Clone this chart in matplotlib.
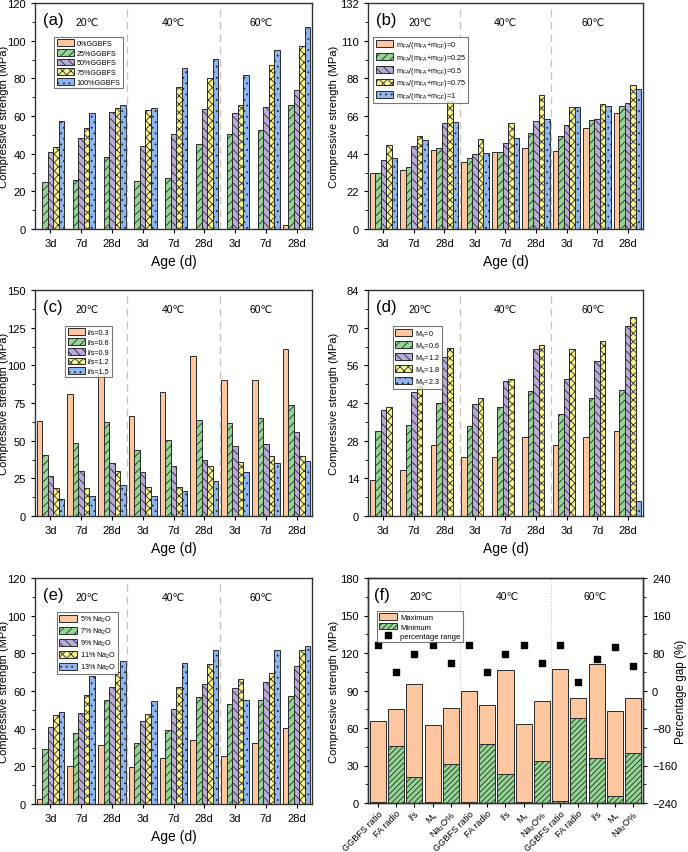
import numpy as np
import matplotlib
matplotlib.use('Agg')
import matplotlib.pyplot as plt
from matplotlib.ticker import MultipleLocator, AutoMinorLocator
from matplotlib.lines import Line2D
from matplotlib.patches import Patch

plt.rcParams['font.family'] = ['Liberation Sans', 'DejaVu Sans']
plt.rcParams['mathtext.fontset'] = 'custom'
plt.rcParams['mathtext.rm'] = 'Liberation Sans'
plt.rcParams['mathtext.it'] = 'Liberation Sans:italic'
plt.rcParams['hatch.linewidth'] = 0.6

# x labels / sections
ages = ['3d', '7d', '28d'] * 3
temps = ['20℃', '40℃', '60℃']

# (a) GGBFS ratio
a_labels = ['0%GGBFS', '25%GGBFS', '50%GGBFS', '75%GGBFS', '100%GGBFS']
a_vals = [
    [0, 0, 0, 0, 0, 0, 0, 0, 2],
    [25, 25.8, 38.4, 25.3, 27.2, 45, 50.3, 52.7, 65.8],
    [40.7, 48.3, 62.3, 44, 50.5, 63.5, 61.5, 64.8, 73.8],
    [43.4, 53.6, 64, 63.2, 75.5, 80, 65.8, 87, 97],
    [57.3, 61.4, 65.7, 64.5, 85.5, 90.2, 81.8, 95, 107.5],
]

# (b) FA ratio
b_labels = [r'm$_\mathrm{FA}$/(m$_\mathrm{FA}$+m$_\mathrm{GF}$)=' + v
            for v in ['0', '0.25', '0.5', '0.75', '1']]
b_vals = [
    [33, 34.5, 46, 39, 45, 47.5, 45.5, 59, 67.5],
    [33, 36.5, 47.5, 41.5, 45, 56, 54.5, 63.5, 72],
    [40.5, 48.5, 62, 44, 50.5, 63, 61, 64, 73.5],
    [49, 54.5, 75, 52.5, 62, 78, 71.5, 73, 84],
    [41.5, 52, 62.5, 44.5, 53, 64, 71, 72, 82],
]

# (c) l/s
c_labels = ['l/s=0.3', 'l/s=0.6', 'l/s=0.9', 'l/s=1.2', 'l/s=1.5']
c_vals = [
    [63, 81, 95, 66.5, 82, 106.5, 90, 90.5, 111],
    [40.8, 48.5, 62.5, 44, 50.5, 63.5, 61.5, 65, 74],
    [26.7, 30, 35.5, 29, 33, 37.5, 46.5, 48, 56],
    [18.5, 18.5, 30, 19, 19.5, 33.5, 36, 39.5, 40],
    [11.5, 13.5, 20.5, 13, 16.5, 23, 29, 35, 36.5],
]

# (d) Ms
d_labels = [r'M$_\mathrm{s}$=' + v for v in ['0', '0.6', '1.2', '1.8', '2.3']]
d_vals = [
    [13.5, 17, 26.5, 22, 22, 29.5, 26.5, 29.5, 31.5],
    [31.5, 34, 42, 33.5, 40.5, 46.5, 38, 44, 47],
    [39.5, 46, 59, 41.5, 50, 62, 51, 57.5, 70.5],
    [40.5, 48.5, 62.5, 44, 51, 63.5, 62, 65, 74],
    [0, 0, 0, 0, 0, 0, 0, 0, 5.5],
]

# (e) Na2O
e_labels = [v + r'% Na$_2$O' for v in ['5', '7', '9', '11', '13']]
e_vals = [
    [2.5, 20, 31.5, 19.5, 24.2, 34, 25.5, 32.3, 40.3],
    [29, 37.5, 55.3, 32.5, 39.5, 57, 53.2, 55.3, 57.2],
    [40.8, 48.3, 62.3, 44, 50.5, 63.5, 61.5, 64.8, 73.5],
    [47.5, 58, 70, 48, 62.3, 74.6, 66.5, 69.3, 82],
    [48.8, 67.8, 76, 54.5, 74.8, 81.6, 55, 82, 84],
]

# (f) summary
f_cats = ['GGBFS ratio', 'FA radio', 'l/s', r'M$_\mathrm{s}$', r'Na$_2$O%'] * 3
f_max = [66, 75.5, 95, 62.5, 76, 90, 78.5, 106.5, 63.5, 81.5, 107.5, 84, 111, 74, 84]
f_min = [1, 45.5, 20.5, 1, 31.5, 1, 47, 23, 1, 34, 2, 68, 36, 5.5, 40]
f_pct = [98, 39, 78, 98, 58, 98, 39, 78, 98, 58, 98, 18.5, 67.5, 93, 52]

colors = ['#FCC79E', '#93D593', '#B9AAD8', '#F7F48C', '#8EB6F2']
hatches = ['', '////', '\\\\\\\\', 'xxxx', '...']
edge = '#2b2b2b'

W, H = 688, 853
fig = plt.figure(figsize=(W / 100, H / 100), dpi=100)


def box(l, r, t, b):
    return [l / W, 1 - b / H, (r - l) / W, (b - t) / H]


def style_axes(ax):
    for s in ax.spines.values():
        s.set_linewidth(1.0)
        s.set_color('#333333')
    ax.tick_params(axis='both', labelsize=8, direction='out', length=3, width=0.8)
    ax.tick_params(axis='y', which='minor', length=2, width=0.6)


def bar_panel(pos, vals, labels, ymax, ystep, letter, leg_xy, ylab_x):
    ax = fig.add_axes(pos)
    x = np.arange(9)
    w = 0.18
    for k in range(5):
        ax.bar(x + (k - 2) * w, vals[k], w, color=colors[k], edgecolor=edge,
               linewidth=0.7, hatch=hatches[k], label=labels[k])
    for xs in (2.5, 5.5):
        ax.axvline(xs, color='#C4C4C4', lw=0.9, ls=(0, (6, 4)))
    ax.set_xlim(-0.5, 8.5)
    ax.set_ylim(0, ymax)
    ax.yaxis.set_major_locator(MultipleLocator(ystep))
    ax.yaxis.set_minor_locator(AutoMinorLocator(2))
    ax.set_xticks(x, ages)
    style_axes(ax)
    ax.set_ylabel('Compressive strength (MPa)', fontsize=8)
    ax.yaxis.set_label_coords(ylab_x, 0.5)
    ax.set_xlabel('Age (d)', fontsize=10)
    ax.text(0.03, 0.925, letter, transform=ax.transAxes, fontsize=12, va='center')
    for xt, t in zip([1.2, 4.0, 6.85], temps):
        ax.text(xt, ymax * 0.915, t, ha='center', va='center', fontsize=7.5)
    leg = ax.legend(loc='upper left', bbox_to_anchor=leg_xy, fontsize=5.2,
                    frameon=True, fancybox=False, handlelength=2.4, handleheight=1.1,
                    labelspacing=0.25, borderpad=0.3, handletextpad=0.4,
                    borderaxespad=0)
    leg.get_frame().set_edgecolor('#555555')
    leg.get_frame().set_linewidth(0.8)
    return ax


bar_panel(box(35, 312, 4, 230), a_vals, a_labels, 120, 20, '(a)', (0.07, 0.85), -0.093)
bar_panel(box(368, 643, 4, 230), b_vals, b_labels, 132, 22, '(b)', (0.02, 0.85), -0.105)
bar_panel(box(35, 312, 291, 517), c_vals, c_labels, 150, 25, '(c)', (0.11, 0.84), -0.093)
bar_panel(box(368, 643, 291, 517), d_vals, d_labels, 84, 14, '(d)', (0.09, 0.84), -0.105)
bar_panel(box(35, 312, 579, 805), e_vals, e_labels, 120, 20, '(e)', (0.08, 0.85), -0.093)

# panel (f)
ax = fig.add_axes(box(368, 643, 579, 804))
xf = np.arange(len(f_cats))
ax.bar(xf, f_max, 0.88, color=colors[0], edgecolor=edge, linewidth=0.7)
ax.bar(xf, f_min, 0.88, color=colors[1], edgecolor=edge, linewidth=0.7, hatch='//////')
for xs in (4.5, 9.5):
    ax.axvline(xs, color='#C8C8C8', lw=0.8, ls=':')
ax.set_xlim(-0.55, 14.55)
ax.set_ylim(0, 180)
ax.yaxis.set_major_locator(MultipleLocator(30))
ax.yaxis.set_minor_locator(AutoMinorLocator(2))
ax.set_xticks(xf, f_cats, rotation=45, ha='right', rotation_mode='anchor')
style_axes(ax)
ax.tick_params(axis='x', labelsize=6.6, pad=1)
ax.set_ylabel('Compressive strength (MPa)', fontsize=8)
ax.yaxis.set_label_coords(-0.105, 0.5)
ax.text(0.022, 0.925, '(f)', transform=ax.transAxes, fontsize=12, va='center')
for xt, t in zip([2.35, 7.1, 11.9], temps):
    ax.text(xt, 180 * 0.92, t, ha='center', va='center', fontsize=7.5)

ax2 = ax.twinx()
ax2.scatter(xf, f_pct, marker='s', s=22, color='black', zorder=5)
ax2.set_ylim(-240, 240)
ax2.yaxis.set_major_locator(MultipleLocator(80))
ax2.yaxis.set_minor_locator(AutoMinorLocator(2))
style_axes(ax2)
ax2.set_ylabel('Percentage gap (%)', fontsize=8.5)
ax2.yaxis.set_label_coords(1.115, 0.5)

handles = [Patch(facecolor=colors[0], edgecolor=edge, linewidth=0.7),
           Patch(facecolor=colors[1], edgecolor=edge, linewidth=0.7, hatch='//////'),
           Line2D([], [], marker='s', color='black', ls='none', markersize=4)]
leg = ax2.legend(handles, ['Maximum', 'Minimum', 'percentage range'], loc='upper left',
                 bbox_to_anchor=(0.033, 0.853), fontsize=5.5, frameon=True, fancybox=False,
                 handlelength=2.4, handleheight=1.0, labelspacing=0.2, borderpad=0.25,
                 handletextpad=0.4, borderaxespad=0)
leg.get_frame().set_edgecolor('#555555')
leg.get_frame().set_linewidth(0.8)

fig.savefig('out.png', dpi=100)
